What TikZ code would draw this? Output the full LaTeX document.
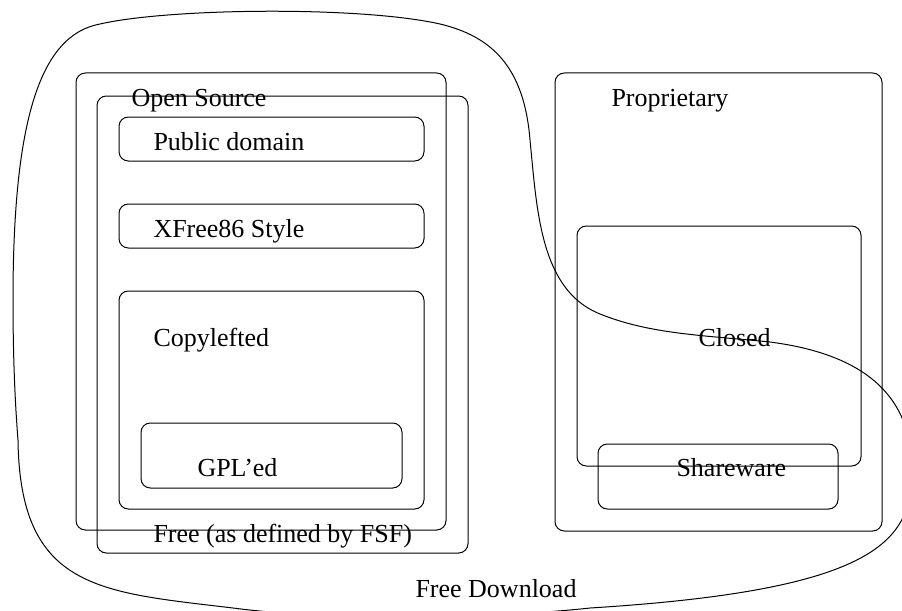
\documentclass[tikz,border=0pt]{standalone}
\usepackage{fontspec}
\setmainfont{Liberation Serif}

\tikzset{every picture/.style={line width=0.75pt}}
\tikzset{
  licbox/.style={rounded corners=7pt},
  lbl/.style={anchor=base west, inner sep=0pt, font=\fontsize{19.5}{23}\selectfont}
}

\begin{document}
\begin{tikzpicture}[x=0.75pt,y=0.75pt,yscale=-1,xscale=1]
	\useasboundingbox (0,0) rectangle (902,610);

	%Curve Lines: Free Download
	\draw (13,300) .. controls (13,120) and (40,35) .. (100,24) .. controls (170,8) and (360,6) .. (440,24) .. controls (490,36) and (524,65) .. (530,140) .. controls (537,210) and (540,290) .. (600,314) .. controls (650,334) and (700,335) .. (770,342) .. controls (870,355) and (912,400) .. (912,470) .. controls (912,540) and (880,590) .. (590,608) .. controls (500,618) and (330,621) .. (233,608) .. controls (100,592) and (20,590) .. (18,440) .. controls (14,390) and (13,340) .. (13,300) -- cycle ;

	%Shape: Rectangle (Open Source)
	\draw [licbox] (76,73) rectangle (446,530) ;
	%Shape: Rectangle (Free as defined by FSF)
	\draw [licbox] (97,96) rectangle (468,553) ;
	%Shape: Rectangle (Public domain)
	\draw [licbox] (119,117) rectangle (424,161) ;
	%Shape: Rectangle (XFree86 Style)
	\draw [licbox] (119,204) rectangle (424,248) ;
	%Shape: Rectangle (Copylefted)
	\draw [licbox] (119,291) rectangle (424,509) ;
	%Shape: Rectangle (GPL'ed)
	\draw [licbox] (141,423) rectangle (402,488) ;
	%Shape: Rectangle (Proprietary)
	\draw [licbox] (555,73) rectangle (882,531) ;
	%Shape: Rectangle (Closed)
	\draw [licbox] (577,226) rectangle (861,466) ;
	%Shape: Rectangle (Shareware)
	\draw [licbox] (598,444) rectangle (838,509) ;

	% Text Node
	\node [lbl] (opensrc) at (131,106) {Open Source};
	% Text Node
	\node [lbl] (pubdom) at (153,150) {Public domain};
	% Text Node
	\node [lbl] (xfree) at (153,237) {XFree86 Style};
	% Text Node
	\node [lbl] (copyleft) at (153,346) {Copylefted};
	% Text Node
	\node [lbl] (gpl) at (197,476) {GPL’ed};
	% Text Node
	\node [lbl] (fsf) at (153,542) {Free (as defined by FSF)};
	% Text Node
	\node [lbl] (freedl) at (415,597) {Free Download};
	% Text Node
	\node [lbl] (propr) at (611,106) {Proprietary};
	% Text Node
	\node [lbl] (closed) at (698,346) {Closed};
	% Text Node
	\node [lbl] (sharew) at (676,476) {Shareware};

\end{tikzpicture}
\end{document}
